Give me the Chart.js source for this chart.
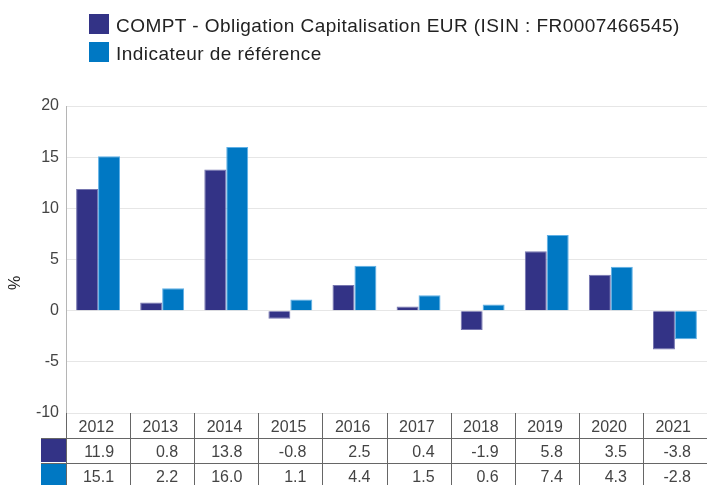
<!DOCTYPE html>
<html>
<head>
<meta charset="utf-8">
<script src="https://cdn.jsdelivr.net/npm/chart.js@4.4.0/dist/chart.umd.min.js"></script>
<style>
  body { margin: 0; background: #fff; }
  #wrap { position: relative; width: 707px; height: 485px; }
  .legend { position: absolute; left: 89px; top: 14px; font-family: "Liberation Sans", Arial, sans-serif; font-size: 19px; letter-spacing: 0.45px; color: #222; }
  .legend div { display: flex; align-items: center; height: 20px; margin-bottom: 8px; white-space: nowrap; }
  .legend span.sw { display: inline-block; width: 20px; height: 20px; margin-right: 7px; }
  .legend span.tx { display: inline-block; position: relative; top: 2px; }
</style>
</head>
<body>
<div id="wrap">
  <div class="legend">
    <div><span class="sw" style="background:#333386"></span><span class="tx">COMPT - Obligation Capitalisation EUR (ISIN : FR0007466545)</span></div>
    <div><span class="sw" style="background:#0078c3"></span><span class="tx">Indicateur de référence</span></div>
  </div>
  <canvas id="myChart"></canvas>
</div>
<script>
var years = ['2012', '2013', '2014', '2015', '2016', '2017', '2018', '2019', '2020', '2021'];
var fund = [11.9, 0.8, 13.8, -0.8, 2.5, 0.4, -1.9, 5.8, 3.5, -3.8];
var benchmark = [15.1, 2.2, 16.0, 1.1, 4.4, 1.5, 0.6, 7.4, 4.3, -2.8];
var fundColor = '#333386';
var benchColor = '#0078c3';

// table under the plot, aligned on the category scale
var tablePlugin = {
    id: 'tableBelow',
    afterDraw: function(chart) {
        var ctx = chart.ctx;
        var x = chart.scales.x;
        var area = chart.chartArea;
        var rowH = 25;
        var top = area.bottom;
        var w = (x.getPixelForValue(1) - x.getPixelForValue(0));
        ctx.save();
        // colour cells
        ctx.fillStyle = fundColor;
        ctx.fillRect(area.left - 25, top + rowH, 25, rowH - 1);
        ctx.fillStyle = benchColor;
        ctx.fillRect(area.left - 25, top + 2 * rowH, 25, rowH);
        // lines
        ctx.strokeStyle = '#666';
        ctx.lineWidth = 1;
        ctx.beginPath();
        for (var r = 1; r <= 2; r++) {
            ctx.moveTo(area.left - 25, top + r * rowH + 0.5);
            ctx.lineTo(area.right, top + r * rowH + 0.5);
        }
        for (var i = 0; i < years.length; i++) {
            var bx = Math.round(x.getPixelForValue(i) - w / 2) + 0.5;
            ctx.moveTo(bx, top);
            ctx.lineTo(bx, chart.height);
        }
        ctx.stroke();
        // texts
        ctx.font = '16px "Liberation Sans", Arial, sans-serif';
        ctx.fillStyle = '#444';
        ctx.textAlign = 'right';
        ctx.textBaseline = 'middle';
        for (var j = 0; j < years.length; j++) {
            var rx = x.getPixelForValue(j) + w / 2 - 16;
            ctx.fillText(years[j], rx, top + rowH / 2 + 2);
            ctx.fillText(fund[j].toFixed(1), rx, top + rowH * 1.5 + 2);
            ctx.fillText(benchmark[j].toFixed(1), rx, top + rowH * 2.5 + 2);
        }
        // axis title
        ctx.translate(16, 283);
        ctx.rotate(-Math.PI / 2);
        ctx.textAlign = 'center';
        ctx.fillStyle = '#222';
        ctx.font = '16px "Liberation Sans", Arial, sans-serif';
        ctx.fillText('%', 0, 0);
        ctx.restore();
    }
};

var ctx = document.getElementById('myChart').getContext('2d');
var myChart = new Chart(ctx, {
    type: 'bar',
    data: {
        labels: years,
        datasets: [{
            label: 'COMPT - Obligation Capitalisation EUR (ISIN : FR0007466545)',
            data: fund,
            backgroundColor: fundColor,
            borderColor: '#7676b0',
            borderWidth: 1
        },
        {
            label: 'Indicateur de référence',
            data: benchmark,
            backgroundColor: benchColor,
            borderColor: '#5fb0e6',
            borderWidth: 1
        }]
    },
    options: {
        responsive: true,
        maintainAspectRatio: false,
        animation: false,
        layout: {
            padding: { top: 106, bottom: 72, left: 0, right: 0 }
        },
        datasets: {
            bar: { categoryPercentage: 0.685, barPercentage: 1.0 }
        },
        plugins: {
            legend: { display: false },
            tooltip: { enabled: false }
        },
        scales: {
            x: {
                display: false
            },
            y: {
                min: -10,
                max: 20,
                afterFit: function(scale) { scale.width = 66; },
                ticks: {
                    stepSize: 5,
                    padding: 7,
                    color: '#444',
                    font: { size: 16, family: '"Liberation Sans", Arial, sans-serif' }
                },
                grid: {
                    color: '#e6e6e6',
                    drawTicks: false
                },
                border: { color: '#b5b5b5' }
            }
        }
    },
    plugins: [tablePlugin]
});
</script>
</body>
</html>
